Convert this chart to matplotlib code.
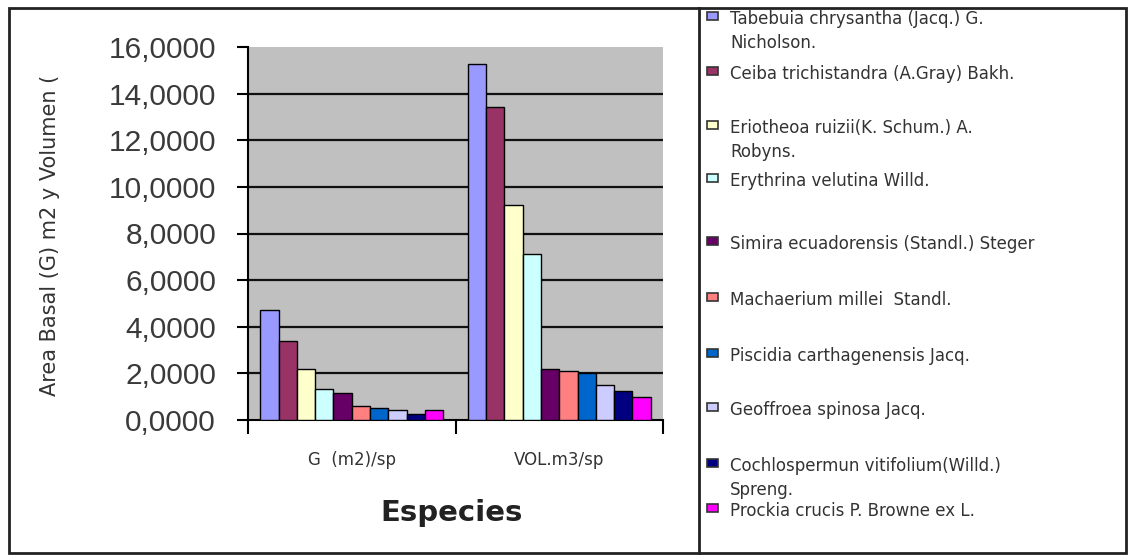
import matplotlib
matplotlib.use("Agg")
import matplotlib.pyplot as plt
from matplotlib.patches import Rectangle
from matplotlib.lines import Line2D
import numpy as np

# ---- data ----
categories = ["G  (m2)/sp", "VOL.m3/sp"]
species = [
    "Tabebuia chrysantha (Jacq.) G.\nNicholson.",
    "Ceiba trichistandra (A.Gray) Bakh.",
    "Eriotheoa ruizii(K. Schum.) A.\nRobyns.",
    "Erythrina velutina Willd.",
    "Simira ecuadorensis (Standl.) Steger",
    "Machaerium millei  Standl.",
    "Piscidia carthagenensis Jacq.",
    "Geoffroea spinosa Jacq.",
    "Cochlospermun vitifolium(Willd.)\nSpreng.",
    "Prockia crucis P. Browne ex L.",
]
g_values = [4.70, 3.38, 2.18, 1.31, 1.14, 0.60, 0.50, 0.43, 0.26, 0.43]
vol_values = [15.28, 13.43, 9.24, 7.14, 2.17, 2.11, 2.01, 1.48, 1.23, 0.97]
colors = ["#9999FF", "#993366", "#FFFFCC", "#CCFFFF", "#660066",
          "#FF8080", "#0066CC", "#CCCCFF", "#000080", "#FF00FF"]
yticks = [0, 2, 4, 6, 8, 10, 12, 14, 16]
ytick_labels = ["0,0000", "2,0000", "4,0000", "6,0000", "8,0000",
                "10,0000", "12,0000", "14,0000", "16,0000"]
ylabel = "Area Basal (G) m2 y Volumen ("
xlabel = "Especies"

# ---- layout ----
W, H = 1128, 556
fig = plt.figure(figsize=(W / 100, H / 100), dpi=100)
fig.patch.set_facecolor("white")

def fx(px):
    return px / W

def fy(py):
    return 1 - py / H

ax = fig.add_axes([fx(248), fy(420), fx(663) - fx(248), fy(47) - fy(420)])
ax.set_facecolor("#C0C0C0")
ax.set_xlim(-0.5, 1.5)
ax.set_ylim(0, 16)

n = len(species)
group = 0.88
bw = group / n
x = np.arange(len(categories))
for k in range(n):
    vals = [g_values[k], vol_values[k]]
    ax.bar(x - group / 2 + bw * (k + 0.5), vals, width=bw, color=colors[k],
           edgecolor="black", linewidth=1.0, zorder=3)

# gridlines
for t in yticks[1:-1]:
    ax.axhline(t, color="#111111", lw=1.6, zorder=1)

for s in ["top", "right"]:
    ax.spines[s].set_visible(False)
ax.spines["left"].set_linewidth(1.5)
ax.spines["bottom"].set_linewidth(1.5)

ax.set_yticks(yticks)
ax.set_yticklabels(ytick_labels, fontsize=21.5, color="#3a3a3a",
                   family=["Liberation Sans", "DejaVu Sans"])
ax.tick_params(axis="y", length=8, width=1.5, pad=15)

ax.set_xticks(x)
ax.set_xticklabels(categories, fontsize=12, color="#333333",
                   family=["DejaVu Sans"])
ax.set_xticks([-0.5, 0.5, 1.5], minor=True)
ax.tick_params(axis="x", which="major", length=0, pad=22)
ax.tick_params(axis="x", which="minor", length=10, width=1.5)

fig.text(fx(50), fy(235), ylabel, rotation=90, ha="center", va="center",
         fontsize=15, color="#333333", family=["DejaVu Sans"])
fig.text(fx(452), fy(513), xlabel, ha="center", va="center",
         fontsize=21, fontweight="bold", color="#222222",
         family=["DejaVu Sans"])

# outer frame and legend divider
fig.add_artist(Rectangle((fx(9), fy(553)), fx(1126) - fx(9), fy(8) - fy(553),
                         transform=fig.transFigure, fill=False,
                         edgecolor="#222222", lw=2))
fig.add_artist(Line2D([fx(699), fx(699)], [fy(8), fy(553)],
                      transform=fig.transFigure, color="#222222", lw=2))

# legend (manual, Excel-like spacing)
leg_y = [16, 71, 125, 178, 241, 297, 353, 407, 463, 508]
for k in range(n):
    yc = leg_y[k]
    fig.add_artist(Rectangle((fx(707), fy(yc + 4)), fx(718) - fx(707),
                             fy(yc - 4) - fy(yc + 4),
                             transform=fig.transFigure, facecolor=colors[k],
                             edgecolor="#333333", lw=1.2))
    fig.text(fx(730), fy(yc - 6), species[k], ha="left", va="top",
             fontsize=12, color="#333333", linespacing=1.45,
             family=["DejaVu Sans"])

fig.savefig("out.png", dpi=100, facecolor="white")
